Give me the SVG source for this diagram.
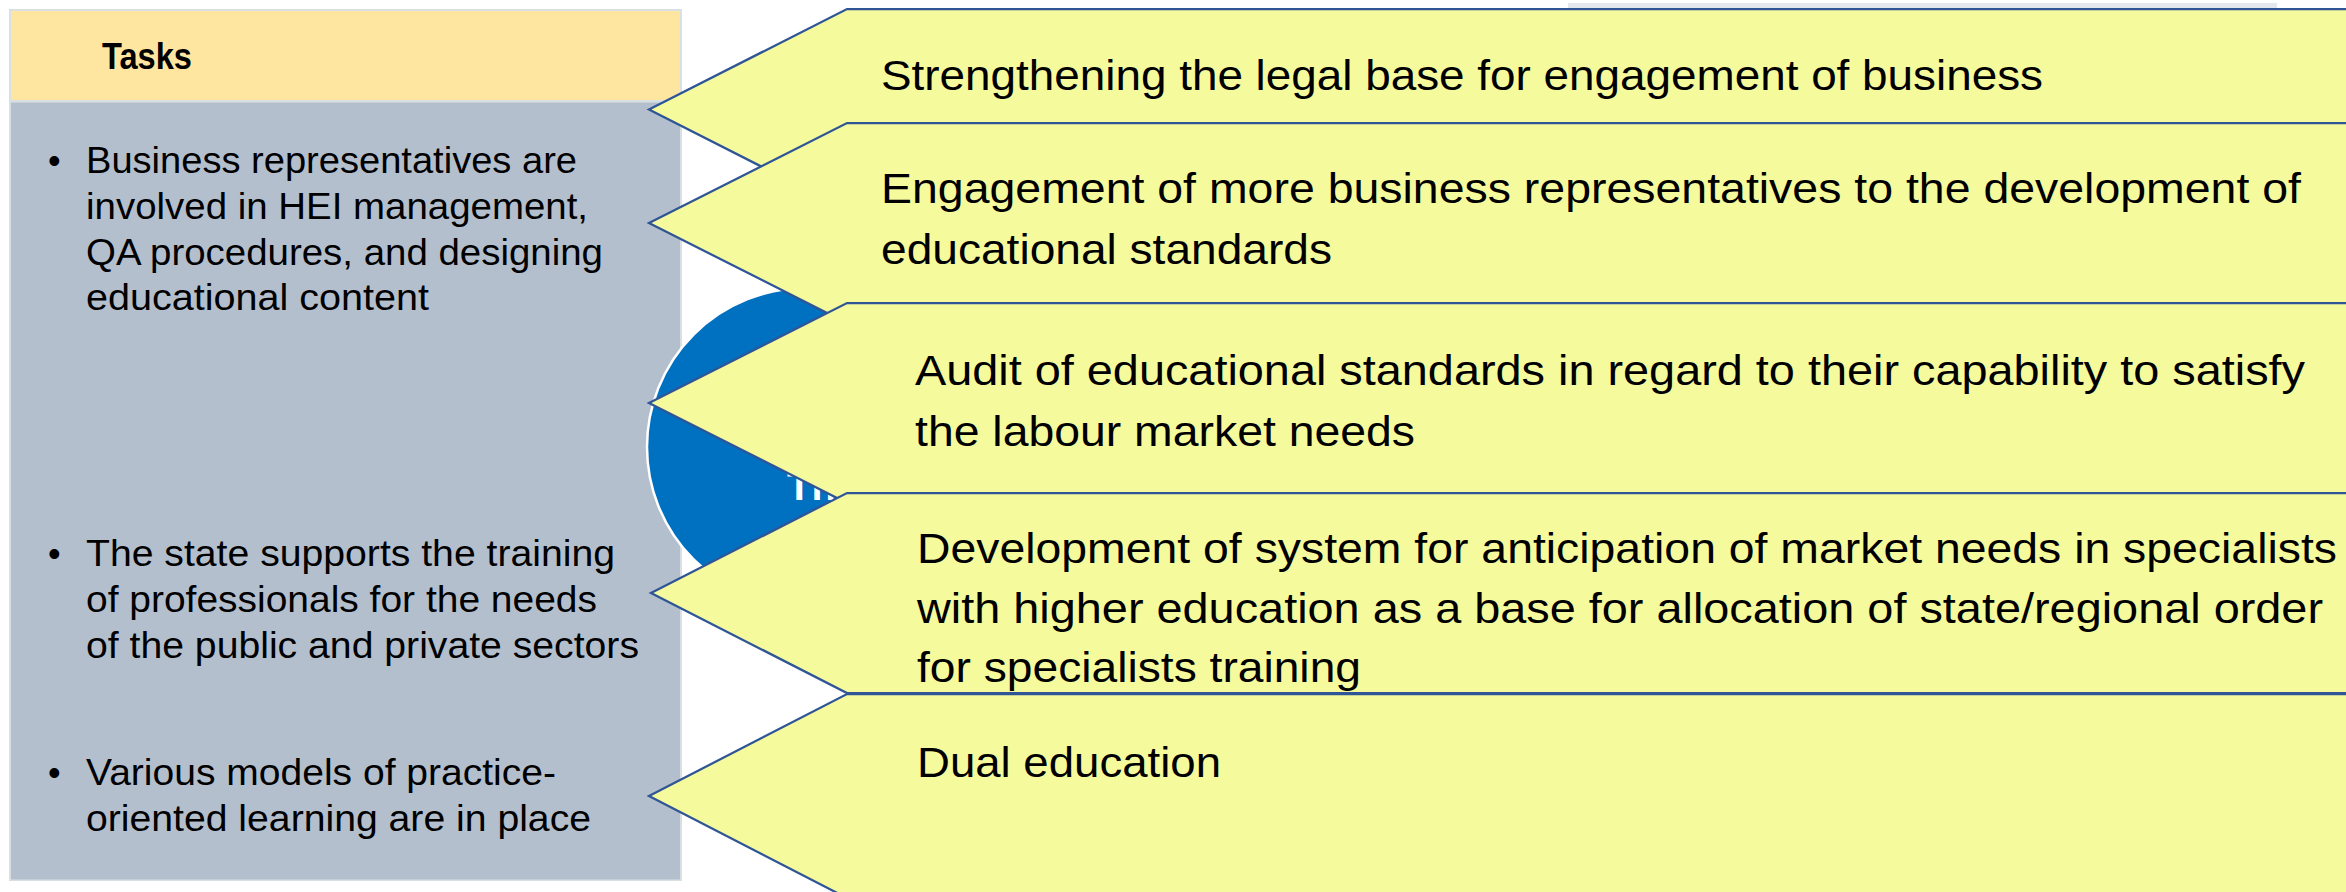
<svg xmlns="http://www.w3.org/2000/svg" width="2346" height="892" viewBox="0 0 2346 892">
<style>
  .panel-text{font-family:"Liberation Sans",Arial,sans-serif;font-size:36px;fill:#000000}
  .tasks{font-family:"Liberation Sans",Arial,sans-serif;font-size:36px;font-weight:bold;fill:#000000}
  .arrow{fill:#F5FA9D;stroke:#2F5597;stroke-width:2.25;stroke-linejoin:miter}
  .arrow-text{font-family:"Liberation Sans",Arial,sans-serif;font-size:42px;fill:#000000}
  .circle-text{font-family:"Liberation Sans",Arial,sans-serif;font-size:40px;font-weight:bold;fill:#FFFFFF}
</style>
<rect x="0" y="0" width="2346" height="892" fill="#FFFFFF"/>
<rect x="1568" y="3" width="709" height="6" fill="#E4E8EE"/>

<g id="tasks-panel">
  <rect x="9" y="9" width="673" height="872" fill="#D8E0E4"/>
  <rect x="11" y="11" width="669" height="89" fill="#FFE6A0"/>
  <rect x="11" y="102.5" width="669" height="777" fill="#B4BFCD"/>
  <text class="tasks" x="102" y="69" textLength="90" lengthAdjust="spacingAndGlyphs">Tasks</text>
  <text class="panel-text" x="48" y="173">•</text>
  <text class="panel-text" x="86" y="173" textLength="491" lengthAdjust="spacingAndGlyphs">Business representatives are</text>
  <text class="panel-text" x="86" y="219" textLength="502" lengthAdjust="spacingAndGlyphs">involved in HEI management,</text>
  <text class="panel-text" x="86" y="264.5" textLength="517" lengthAdjust="spacingAndGlyphs">QA procedures, and designing</text>
  <text class="panel-text" x="86" y="310" textLength="343" lengthAdjust="spacingAndGlyphs">educational content</text>
  <text class="panel-text" x="48" y="566">•</text>
  <text class="panel-text" x="86" y="566" textLength="529" lengthAdjust="spacingAndGlyphs">The state supports the training</text>
  <text class="panel-text" x="86" y="612" textLength="511" lengthAdjust="spacingAndGlyphs">of professionals for the needs</text>
  <text class="panel-text" x="86" y="658" textLength="553" lengthAdjust="spacingAndGlyphs">of the public and private sectors</text>
  <text class="panel-text" x="48" y="785">•</text>
  <text class="panel-text" x="86" y="785" textLength="470" lengthAdjust="spacingAndGlyphs">Various models of practice-</text>
  <text class="panel-text" x="86" y="831" textLength="505" lengthAdjust="spacingAndGlyphs">oriented learning are in place</text>
</g>

<g id="center-circle">
  <circle cx="806" cy="447" r="159" fill="#0070C0" stroke="#FFFFFF" stroke-width="2.5"/>
  <text class="circle-text" x="787" y="500">Th</text>
</g>

<g id="connectors"></g>

<g id="arrow-1">
  <polygon class="arrow" points="847,9 2360,9 2360,210 847,210 649,109.5"/>
  <text class="arrow-text" x="881" y="90" textLength="1162" lengthAdjust="spacingAndGlyphs">Strengthening the legal base for engagement of business</text>
</g>
<g id="arrow-2">
  <polygon class="arrow" points="847,123 2360,123 2360,323 847,323 649,223"/>
  <text class="arrow-text" x="881" y="203" textLength="1420" lengthAdjust="spacingAndGlyphs">Engagement of more business representatives to the development of</text>
  <text class="arrow-text" x="881" y="264" textLength="451" lengthAdjust="spacingAndGlyphs">educational standards</text>
</g>
<g id="arrow-3">
  <polygon class="arrow" points="847,303 2360,303 2360,503 847,503 649,403"/>
  <text class="arrow-text" x="915" y="385" textLength="1390" lengthAdjust="spacingAndGlyphs">Audit of educational standards in regard to their capability to satisfy</text>
  <text class="arrow-text" x="915" y="446" textLength="500" lengthAdjust="spacingAndGlyphs">the labour market needs</text>
</g>
<g id="arrow-4">
  <polygon class="arrow" points="847,493 2360,493 2360,693 847,693 651,593"/>
  <text class="arrow-text" x="917" y="563" textLength="1420" lengthAdjust="spacingAndGlyphs">Development of system for anticipation of market needs in specialists</text>
  <text class="arrow-text" x="917" y="622.5" textLength="1406" lengthAdjust="spacingAndGlyphs">with higher education as a base for allocation of state/regional order</text>
  <text class="arrow-text" x="917" y="682" textLength="444" lengthAdjust="spacingAndGlyphs">for specialists training</text>
</g>
<g id="arrow-5">
  <polygon class="arrow" points="847,694 2360,694 2360,898 847,898 649,796"/>
  <text class="arrow-text" x="917" y="777" textLength="304" lengthAdjust="spacingAndGlyphs">Dual education</text>
</g>
</svg>
